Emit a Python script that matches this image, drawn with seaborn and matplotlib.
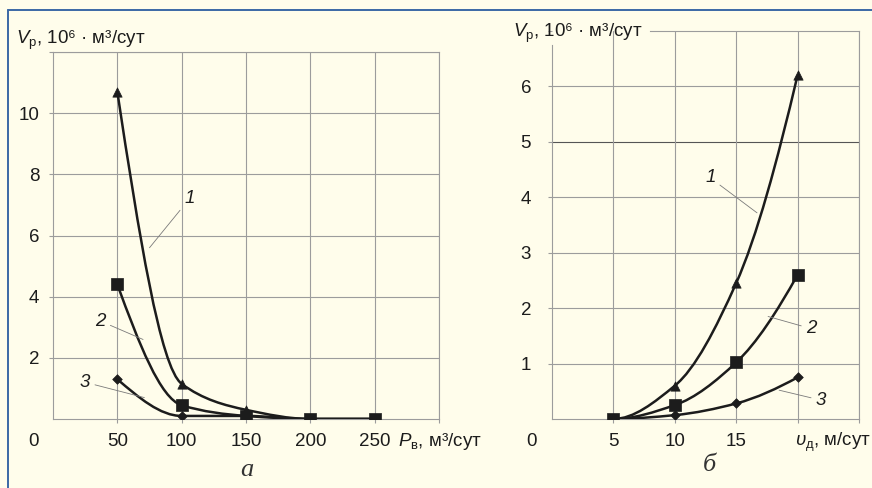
import matplotlib
matplotlib.use("Agg")
from matplotlib import pyplot as plt
from matplotlib.path import Path
from matplotlib.patches import PathPatch
from matplotlib.lines import Line2D
import numpy as np
import pandas as pd
import seaborn as sns

# --- data ---
# panel а: V_p vs P_v
p_water = [50, 100, 150, 200, 250]
v_a1 = [10.7, 1.15, 0.3, 0.0, 0.0]
v_a2 = [4.4, 0.45, 0.1, 0.0, 0.0]
v_a3 = [1.3, 0.1, 0.1, 0.0, 0.0]
# panel б: V_p vs v_d
v_rate = [5, 10, 15, 20]
v_b1 = [0.0, 0.6, 2.45, 6.2]
v_b2 = [0.0, 0.25, 1.02, 2.6]
v_b3 = [0.0, 0.07, 0.28, 0.75]
curve_names = ["1", "2", "3"]

BG = "#fffdeb"
GRID = "#9c9c9c"
INK = "#1c1c1c"

sns.set_style("whitegrid")
plt.rcParams["font.family"] = ["Liberation Sans", "DejaVu Sans"]
plt.rcParams["mathtext.fontset"] = "custom"
plt.rcParams["mathtext.rm"] = "Liberation Sans"
plt.rcParams["mathtext.it"] = "Liberation Sans:italic"


def smooth_path(xs, ys):
    # monotone cubic (pchip-like) drawn as bezier path through the points
    x = np.asarray(xs, float)
    y = np.asarray(ys, float)
    h = np.diff(x)
    d = np.diff(y) / h
    m = np.zeros_like(y)
    for k in range(1, len(y) - 1):
        if d[k - 1] * d[k] > 0:
            m[k] = 2 / (1 / d[k - 1] + 1 / d[k])
    for i, j, s in [(0, 1, 0), (-1, -2, -1)]:
        e = (3 * d[i] - d[j]) / 2
        if np.sign(e) != np.sign(d[i]):
            e = 0.0
        m[s] = e
    verts = [(x[0], y[0])]
    codes = [Path.MOVETO]
    for k in range(len(h)):
        verts += [(x[k] + h[k] / 3, y[k] + m[k] * h[k] / 3),
                  (x[k + 1] - h[k] / 3, y[k + 1] - m[k + 1] * h[k] / 3),
                  (x[k + 1], y[k + 1])]
        codes += [Path.CURVE4] * 3
    return Path(verts, codes)


df_a = pd.DataFrame({
    "P": p_water * 3,
    "V": v_a1 + v_a2 + v_a3,
    "curve": [c for c in curve_names for _ in p_water],
})
df_b = pd.DataFrame({
    "v": v_rate * 3,
    "V": v_b1 + v_b2 + v_b3,
    "curve": [c for c in curve_names for _ in v_rate],
})

markers = {"1": "^", "2": "s", "3": "D"}
sizes = {"1": 45, "2": 70, "3": 24}

fig = plt.figure(figsize=(8.72, 4.88), dpi=100, facecolor=BG)
ax_a = fig.add_axes([0.0608, 0.1414, 0.4426, 0.752])
ax_b = fig.add_axes([0.633, 0.1414, 0.352, 0.795])

for ax, df, xcol in [(ax_a, df_a, "P"), (ax_b, df_b, "v")]:
    ax.set_facecolor(BG)
    for name in curve_names:
        sub = df[df["curve"] == name]
        ax.add_patch(PathPatch(smooth_path(sub[xcol], sub["V"]), fill=False,
                               edgecolor=INK, lw=1.8, zorder=3))
        sns.scatterplot(data=sub, x=xcol, y="V", marker=markers[name],
                        s=sizes[name], color=INK, edgecolor=INK, linewidth=0.5,
                        ax=ax, zorder=4, legend=False)
    ax.set_xlabel("")
    ax.set_ylabel("")
    ax.grid(True, color=GRID, lw=0.8)
    for sp in ax.spines.values():
        sp.set_color(GRID)
        sp.set_linewidth(0.8)
    ax.tick_params(axis="both", which="both", length=3, width=0.8,
                   color=GRID, labelsize=13.5, labelcolor=INK,
                   bottom=True, left=True)
    ax.tick_params(axis="x", pad=7)
    ax.tick_params(axis="y", pad=7)

# panel а axes
ax_a.set_xlim(0, 300)
ax_a.set_ylim(0, 12)
ax_a.set_xticks([50, 100, 150, 200, 250, 300])
ax_a.set_xticklabels(["50", "100", "150", "200", "250", ""])
ax_a.set_yticks([2, 4, 6, 8, 10, 12])
ax_a.set_yticklabels(["2", "4", "6", "8", "10", ""])

# panel б axes
ax_b.set_xlim(0, 25)
ax_b.set_ylim(0, 7)
ax_b.set_xticks([5, 10, 15, 20, 25])
ax_b.set_xticklabels(["5", "10", "15", "", ""])
ax_b.set_yticks([1, 2, 3, 4, 5, 6, 7])
ax_b.set_yticklabels(["1", "2", "3", "4", "5", "6", ""])
ax_b.tick_params(axis="y", pad=12)
ax_b.spines["top"].set_bounds(8.0, 25)
ax_b.spines["left"].set_bounds(0, 6.75)
ax_b.grid(False, axis="y")
for yv in [1, 2, 3, 4, 5, 6]:
    ax_b.axhline(yv, color=GRID if yv != 5 else "#555555", lw=0.8, zorder=0)

# curve labels with leader lines
lead = dict(arrowstyle="-", color="#7a7a7a", lw=0.6, shrinkA=1, shrinkB=0)
label_a = {"1": ((75, 5.6), (106, 7.2)),
           "2": ((70, 2.6), (37, 3.2)),
           "3": ((71, 0.7), (25, 1.2))}
label_b = {"1": ((16.7, 3.72), (12.9, 4.35)),
           "2": ((17.6, 1.85), (21.1, 1.63)),
           "3": ((18.5, 0.52), (21.9, 0.34))}
for ax, labels in [(ax_a, label_a), (ax_b, label_b)]:
    for name, (xy, xyt) in labels.items():
        ax.annotate(name, xy=xy, xytext=xyt, fontsize=13.5, style="italic",
                    color=INK, ha="center", va="center", arrowprops=lead,
                    zorder=5)

# axis titles and origin zeros
ylab = r"$V_{\mathrm{р}}$, 10⁶ · м³/сут"
fig.text(0.018, 0.918, ylab, fontsize=13.5, color=INK, va="center")
fig.text(0.588, 0.932, ylab, fontsize=13.5, color=INK, va="center")
fig.text(0.456, 0.096, r"$P_{\mathrm{в}}$, м³/сут",
         fontsize=13.5, color=INK, va="center")
fig.text(0.912, 0.094, r"$\mathit{υ}_{\mathrm{д}}$, м/сут",
         fontsize=13.5, color=INK, va="center")
fig.text(0.038, 0.096, "0", fontsize=13.5, color=INK, ha="center", va="center")
fig.text(0.609, 0.096, "0", fontsize=13.5, color=INK, ha="center", va="center")

# panel captions
fig.text(0.283, 0.037, "а", family="Liberation Serif", style="italic",
         fontsize=19, color="#333333", ha="center", va="center")
fig.text(0.814, 0.048, "б", family="Liberation Serif", style="italic",
         fontsize=19, color="#333333", ha="center", va="center")

# blue frame
fig.add_artist(Line2D([0.0092, 1.0], [0.9795, 0.9795], transform=fig.transFigure,
                      color="#3b68a6", lw=1.4))
fig.add_artist(Line2D([0.0092, 0.0092], [0.0, 0.9795], transform=fig.transFigure,
                      color="#3b68a6", lw=1.4))

fig.savefig("out.png", dpi=100, facecolor=BG)
